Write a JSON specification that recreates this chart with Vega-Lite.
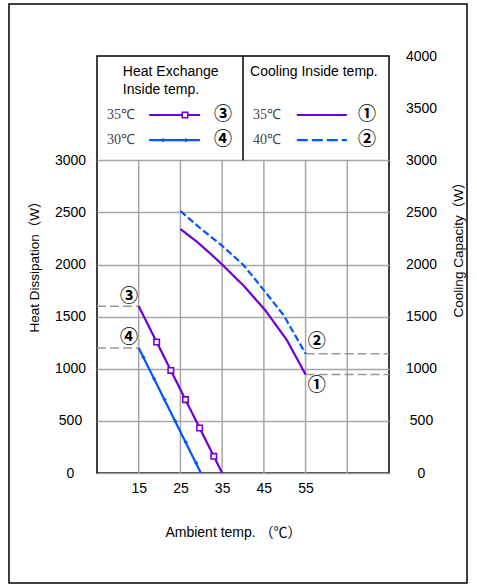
{
  "$schema": "https://vega.github.io/schema/vega-lite/v6.json",
  "width": 292,
  "height": 417,
  "autosize": {"type": "none"},
  "padding": {"left": 97, "top": 56, "right": 88, "bottom": 112},
  "background": "white",
  "config": {
    "view": {"stroke": "#000", "strokeWidth": 1.5},
    "font": "Liberation Sans",
    "axis": {"labelFont": "Liberation Sans", "titleFont": "'Liberation Sans', 'Noto Sans CJK JP'", "labelColor": "#000", "titleColor": "#000", "labelFontSize": 14, "titleFontWeight": "normal", "ticks": false, "domain": false}
  },
  "datasets": {
    "curves": [
      {"id": "c35", "group": "cool35", "x": 25, "y": 2340},
      {"id": "c35", "group": "cool35", "x": 28.9, "y": 2220},
      {"id": "c35", "group": "cool35", "x": 32.1, "y": 2107},
      {"id": "c35", "group": "cool35", "x": 35, "y": 2000},
      {"id": "c35", "group": "cool35", "x": 38.5, "y": 1861},
      {"id": "c35", "group": "cool35", "x": 40.1, "y": 1800},
      {"id": "c35", "group": "cool35", "x": 45.3, "y": 1563},
      {"id": "c35", "group": "cool35", "x": 50.5, "y": 1276},
      {"id": "c35", "group": "cool35", "x": 55, "y": 945},
      {"id": "c40", "group": "cool40", "x": 25, "y": 2513},
      {"id": "c40", "group": "cool40", "x": 29.7, "y": 2350},
      {"id": "c40", "group": "cool40", "x": 35, "y": 2180},
      {"id": "c40", "group": "cool40", "x": 40.1, "y": 1995},
      {"id": "c40", "group": "cool40", "x": 42.9, "y": 1858},
      {"id": "c40", "group": "cool40", "x": 45.3, "y": 1739},
      {"id": "c40", "group": "cool40", "x": 49.7, "y": 1516},
      {"id": "c40", "group": "cool40", "x": 55, "y": 1145},
      {"id": "h35", "group": "heat35", "x": 15, "y": 1600},
      {"id": "h35", "group": "heat35", "x": 35, "y": 0},
      {"id": "h30", "group": "heat30", "x": 15, "y": 1200},
      {"id": "h30", "group": "heat30", "x": 29.9, "y": 0},
      {"id": "l3", "group": "heat35", "x": 17.5, "y": 3434},
      {"id": "l3", "group": "heat35", "x": 29.7, "y": 3434},
      {"id": "l4", "group": "heat30", "x": 17.5, "y": 3194},
      {"id": "l4", "group": "heat30", "x": 29.7, "y": 3194},
      {"id": "l1", "group": "cool35", "x": 52.9, "y": 3434},
      {"id": "l1", "group": "cool35", "x": 64.9, "y": 3434},
      {"id": "l2", "group": "leg40", "x": 52.9, "y": 3194},
      {"id": "l2", "group": "leg40", "x": 64.9, "y": 3194}
    ],
    "sq": [
      {"x": 19.3, "y": 1256},
      {"x": 22.7, "y": 984},
      {"x": 26.2, "y": 704},
      {"x": 29.6, "y": 432},
      {"x": 33.0, "y": 160},
      {"x": 26.1, "y": 3434}
    ],
    "dots": [
      {"x": 16.1, "y": 1112},
      {"x": 18.7, "y": 904},
      {"x": 21.2, "y": 704},
      {"x": 23.8, "y": 496},
      {"x": 26.3, "y": 296},
      {"x": 28.8, "y": 96},
      {"x": 20.8, "y": 3194},
      {"x": 26.3, "y": 3194}
    ],
    "grid": [{"x": 15}, {"x": 25}, {"x": 35}, {"x": 45}, {"x": 55}, {"x": 65}],
    "refs": [
      {"x": 5, "x2": 15, "y": 1600},
      {"x": 5, "x2": 15, "y": 1200},
      {"x": 55, "x2": 75, "y": 1145},
      {"x": 55, "x2": 75, "y": 945}
    ],
    "sans": [
      {"text": "Heat Exchange", "x": 11.2, "y": 3847},
      {"text": "Inside temp.", "x": 11.2, "y": 3674},
      {"text": "Cooling Inside temp.", "x": 41.7, "y": 3847}
    ],
    "serif": [
      {"text": "35℃", "x": 7.4, "y": 3434},
      {"text": "30℃", "x": 7.4, "y": 3194},
      {"text": "35℃", "x": 42.4, "y": 3434},
      {"text": "40℃", "x": 42.4, "y": 3194}
    ],
    "circ": [
      {"text": "③", "x": 35.2, "y": 3434},
      {"text": "④", "x": 35.2, "y": 3194},
      {"text": "①", "x": 69.7, "y": 3434},
      {"text": "②", "x": 69.7, "y": 3194},
      {"text": "③", "x": 12.7, "y": 1690},
      {"text": "④", "x": 12.7, "y": 1295},
      {"text": "②", "x": 57.7, "y": 1254},
      {"text": "①", "x": 57.7, "y": 835}
    ]
  },
  "layer": [
    {
      "layer": [
        {
          "data": {"values": [{}]},
          "mark": {"type": "rect", "filled": false, "stroke": "#000", "strokeWidth": 1.5, "clip": false},
          "encoding": {
            "x": {"datum": -16.1, "type": "quantitative", "scale": {"domain": [5, 75], "nice": false, "zero": false}},
            "x2": {"datum": 93.7},
            "y": {"datum": 4499, "type": "quantitative", "scale": {"domain": [0, 4000], "nice": false}},
            "y2": {"datum": -1055}
          }
        },
        {
          "data": {"name": "grid"},
          "mark": {"type": "rule", "color": "#a6a6a6", "strokeWidth": 1.5},
          "encoding": {
            "x": {"field": "x", "type": "quantitative", "scale": {"domain": [5, 75], "nice": false, "zero": false}},
            "y": {"datum": 0, "type": "quantitative", "scale": {"domain": [0, 4000], "nice": false}},
            "y2": {"datum": 3000}
          }
        },
        {
          "data": {"name": "refs"},
          "mark": {"type": "rule", "color": "#999999", "strokeWidth": 1.5, "strokeDash": [9, 4]},
          "encoding": {
            "x": {"field": "x", "type": "quantitative", "scale": {"domain": [5, 75], "nice": false, "zero": false}},
            "x2": {"field": "x2"},
            "y": {"field": "y", "type": "quantitative", "scale": {"domain": [0, 4000], "nice": false}}
          }
        },
        {
          "data": {"values": [{}]},
          "mark": {"type": "rule", "color": "#000", "strokeWidth": 1.5},
          "encoding": {
            "x": {"datum": 40, "type": "quantitative", "scale": {"domain": [5, 75], "nice": false, "zero": false}},
            "y": {"datum": 3000, "type": "quantitative", "scale": {"domain": [0, 4000], "nice": false}},
            "y2": {"datum": 4000}
          }
        },
        {
          "data": {"name": "curves"},
          "mark": {"type": "line", "strokeWidth": 2.2},
          "encoding": {
            "x": {"field": "x", "type": "quantitative", "scale": {"domain": [5, 75], "nice": false, "zero": false},
              "axis": {"values": [15, 25, 35, 45, 55], "grid": false, "labelPadding": 8, "title": "Ambient temp. （℃）", "titleFontSize": 14, "titleX": 136, "titleY": 59, "titleBaseline": "middle"}},
            "y": {"field": "y", "type": "quantitative", "scale": {"domain": [0, 4000], "nice": false},
              "axis": {"orient": "left", "values": [0, 500, 1000, 1500, 2000, 2500, 3000], "format": "d", "grid": true, "gridColor": "#a6a6a6", "gridWidth": 1.5, "labelAlign": "center", "labelBaseline": "middle", "labelPadding": 27, "title": "Heat Dissipation（W）", "titleFontSize": 13.5, "titleX": -63, "titleY": 207, "titleAlign": "center", "titleBaseline": "middle", "titleAngle": 270}},
            "detail": {"field": "id"},
            "color": {"field": "group", "type": "nominal", "legend": null, "scale": {"domain": ["cool35", "cool40", "heat35", "heat30", "leg40"], "range": ["#7300d2", "#0055ff", "#7300d2", "#0055ff", "#0055ff"]}},
            "strokeDash": {"field": "group", "type": "nominal", "legend": null, "scale": {"domain": ["cool35", "cool40", "heat35", "heat30", "leg40"], "range": [[1, 0], [7, 3], [1, 0], [1, 0], [11, 4]]}}
          }
        },
        {
          "data": {"name": "sq"},
          "mark": {"type": "point", "shape": "square", "filled": true, "fill": "white", "stroke": "#7300d2", "strokeWidth": 1.6, "size": 30, "opacity": 1},
          "encoding": {
            "x": {"field": "x", "type": "quantitative", "scale": {"domain": [5, 75], "nice": false, "zero": false}},
            "y": {"field": "y", "type": "quantitative", "scale": {"domain": [0, 4000], "nice": false}}
          }
        },
        {
          "data": {"name": "dots"},
          "mark": {"type": "point", "shape": "diamond", "filled": true, "color": "#0055ff", "size": 18, "opacity": 1},
          "encoding": {
            "x": {"field": "x", "type": "quantitative", "scale": {"domain": [5, 75], "nice": false, "zero": false}},
            "y": {"field": "y", "type": "quantitative", "scale": {"domain": [0, 4000], "nice": false}}
          }
        },
        {
          "data": {"name": "sans"},
          "mark": {"type": "text", "align": "left", "baseline": "middle", "font": "Liberation Sans", "fontSize": 14, "color": "#000"},
          "encoding": {
            "x": {"field": "x", "type": "quantitative", "scale": {"domain": [5, 75], "nice": false, "zero": false}},
            "y": {"field": "y", "type": "quantitative", "scale": {"domain": [0, 4000], "nice": false}},
            "text": {"field": "text"}
          }
        },
        {
          "data": {"name": "serif"},
          "mark": {"type": "text", "align": "left", "baseline": "middle", "font": "Liberation Serif", "fontSize": 14, "color": "#444"},
          "encoding": {
            "x": {"field": "x", "type": "quantitative", "scale": {"domain": [5, 75], "nice": false, "zero": false}},
            "y": {"field": "y", "type": "quantitative", "scale": {"domain": [0, 4000], "nice": false}},
            "text": {"field": "text"}
          }
        },
        {
          "data": {"name": "circ"},
          "mark": {"type": "text", "align": "center", "baseline": "middle", "font": "Noto Sans CJK JP", "fontSize": 18, "fontWeight": "bold", "color": "#000"},
          "encoding": {
            "x": {"field": "x", "type": "quantitative", "scale": {"domain": [5, 75], "nice": false, "zero": false}},
            "y": {"field": "y", "type": "quantitative", "scale": {"domain": [0, 4000], "nice": false}},
            "text": {"field": "text"}
          }
        }
      ]
    },
    {
      "data": {"values": [{"v": 0}]},
      "mark": {"type": "point", "opacity": 0},
      "encoding": {
        "y": {"field": "v", "type": "quantitative", "scale": {"domain": [0, 4000], "nice": false},
          "axis": {"orient": "right", "values": [0, 500, 1000, 1500, 2000, 2500, 3000, 3500, 4000], "format": "d", "grid": false, "labelAlign": "center", "labelBaseline": "middle", "labelPadding": 32, "title": "Cooling  Capacity（W）", "titleFontSize": 13.5, "titleX": 69, "titleY": 190, "titleAlign": "center", "titleBaseline": "middle", "titleAngle": 270}}
      }
    }
  ],
  "resolve": {"scale": {"y": "independent"}}
}
